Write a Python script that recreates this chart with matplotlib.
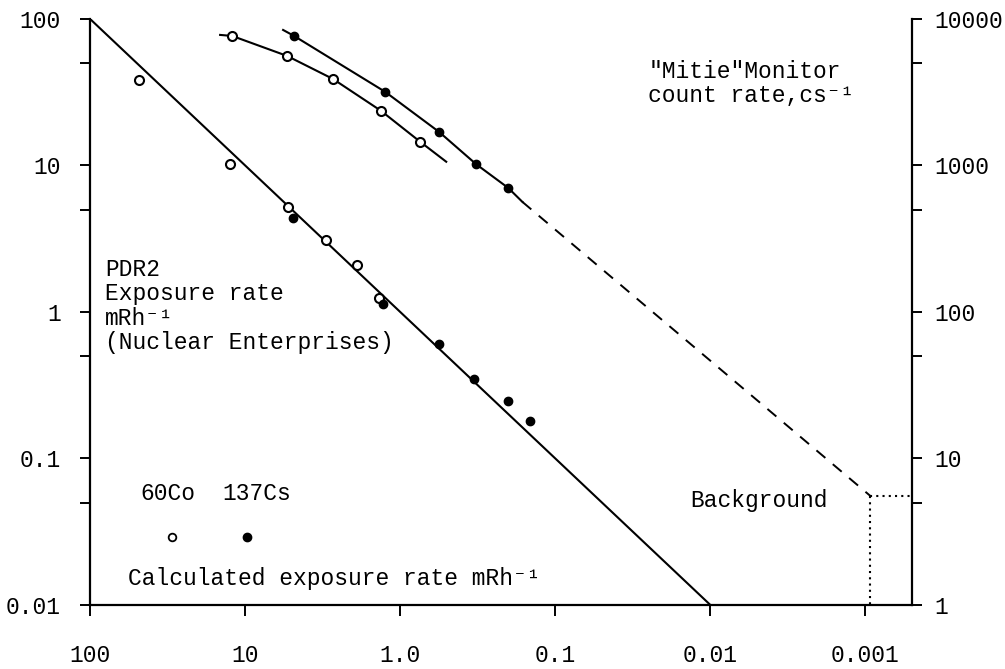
import numpy as np
import matplotlib.pyplot as plt
from matplotlib.ticker import FixedLocator, NullFormatter, NullLocator

plt.rcParams['font.family'] = ['Liberation Mono', 'DejaVu Sans Mono']
plt.rcParams['font.size'] = 16.5

# PDR2 readings (left axis, mRh-1) vs calculated exposure rate
co_x = [48, 12.5, 5.3, 3.0, 1.9, 1.37]
co_y = [38, 10.3, 5.2, 3.1, 2.1, 1.25]
cs_x = [4.9, 1.3, 0.56, 0.333, 0.201, 0.145]
cs_y = [4.4, 1.13, 0.605, 0.349, 0.247, 0.180]
calc_x = [100, 0.01]
calc_y = [100, 0.01]

# Mitie monitor count rates (right axis, cs-1)
mon_co_x = [14.5, 12.1, 5.36, 2.71, 1.33, 0.743, 0.505]
mon_co_y = [7780, 7650, 5590, 3890, 2360, 1450, 1060]
mon_co_pts = slice(1, 6)
mon_cs_x = [5.69, 4.83, 1.25, 0.56, 0.324, 0.201, 0.163]
mon_cs_y = [8410, 7650, 3180, 1690, 1020, 702, 564]
mon_cs_pts = slice(1, 6)
extrap_x = [0.163, 0.00093]
extrap_y = [564, 5.55]
background = 5.55

x_ticks = [100, 10, 1, 0.1, 0.01, 0.001]
x_labels = ['100', '10', '1.0', '0.1', '0.01', '0.001']
yl_ticks = [100, 10, 1, 0.1, 0.01]
yl_labels = ['100', '10', '1', '0.1', '0.01']
yr_ticks = [10000, 1000, 100, 10, 1]
yr_labels = ['10000', '1000', '100', '10', '1']

fig = plt.figure(figsize=(10.05, 6.69), dpi=100)
ax = fig.add_axes([0.0896, 0.0957, 0.818, 0.876])
ax2 = ax.twinx()

for a in (ax, ax2):
    a.set_xscale('log')
    a.set_yscale('log')
    a.spines['top'].set_visible(False)
    for s in a.spines.values():
        s.set_linewidth(1.6)
ax.spines['right'].set_visible(False)
ax2.spines['left'].set_visible(False)
ax2.spines['bottom'].set_visible(False)

ax.set_xlim(100, 0.0005)
ax.set_ylim(0.01, 100)
ax2.set_ylim(1, 10000)

ax.set_xticks(x_ticks)
ax.set_xticklabels(x_labels)
ax.xaxis.set_minor_locator(NullLocator())
ax.set_yticks(yl_ticks)
ax.set_yticklabels(yl_labels)
ax.yaxis.set_minor_locator(FixedLocator([50, 5, 0.5, 0.05]))
ax.yaxis.set_minor_formatter(NullFormatter())
ax2.set_yticks(yr_ticks)
ax2.set_yticklabels(yr_labels)
ax2.yaxis.set_minor_locator(FixedLocator([5000, 500, 50, 5]))
ax2.yaxis.set_minor_formatter(NullFormatter())

ax.tick_params(axis='x', which='major', direction='out', length=8, width=1.4, pad=20)
ax.tick_params(axis='y', which='both', direction='out', length=7, width=1.4, pad=14)
ax2.tick_params(axis='y', which='both', direction='out', length=7, width=1.4, pad=9)

# calculated line and PDR2 points
ax.plot(calc_x, calc_y, color='black', lw=1.5)
ax.plot(co_x, co_y, 'o', mfc='white', mec='black', mew=1.5, ms=6.5, ls='none')
ax.plot(cs_x, cs_y, 'o', color='black', ms=6, ls='none')

# monitor curves
ax2.plot(mon_co_x, mon_co_y, color='black', lw=1.5)
ax2.plot(mon_co_x[mon_co_pts], mon_co_y[mon_co_pts], 'o', mfc='white', mec='black',
         mew=1.5, ms=6.5, ls='none')
ax2.plot(mon_cs_x, mon_cs_y, color='black', lw=1.5)
ax2.plot(mon_cs_x[mon_cs_pts], mon_cs_y[mon_cs_pts], 'o', color='black', ms=6, ls='none')
ax2.plot(extrap_x, extrap_y, color='black', lw=1.4, ls=(0, (6, 5)))

# background level
ax2.plot([extrap_x[1], 0.0005], [background, background], color='black', lw=1.5,
         ls=(0, (1, 2)), clip_on=False)
ax2.plot([extrap_x[1], extrap_x[1]], [background, 1], color='black', lw=1.5,
         ls=(0, (1, 2)))

# annotations
ax.text(0.018, 0.592, 'PDR2\nExposure rate\nmRh\u207b\u00b9\n(Nuclear Enterprises)',
        transform=ax.transAxes, ha='left', va='top', linespacing=1.08)
ax.text(0.061, 0.191, '60Co', transform=ax.transAxes, ha='left', va='center')
ax.text(0.161, 0.191, '137Cs', transform=ax.transAxes, ha='left', va='center')
ax.plot([0.0998], [0.116], 'o', mfc='white', mec='black', mew=1.3, ms=5.5,
        transform=ax.transAxes)
ax.plot([0.191], [0.116], 'o', color='black', ms=6, transform=ax.transAxes)
ax.text(0.046, 0.046, 'Calculated exposure rate mRh\u207b\u00b9', transform=ax.transAxes,
        ha='left', va='center')
ax.text(0.679, 0.93, '"Mitie"Monitor\ncount rate,cs\u207b\u00b9', transform=ax.transAxes,
        ha='left', va='top', linespacing=1.05)
ax.text(0.730, 0.179, 'Background', transform=ax.transAxes, ha='left', va='center')

fig.savefig('out.png', dpi=100)
